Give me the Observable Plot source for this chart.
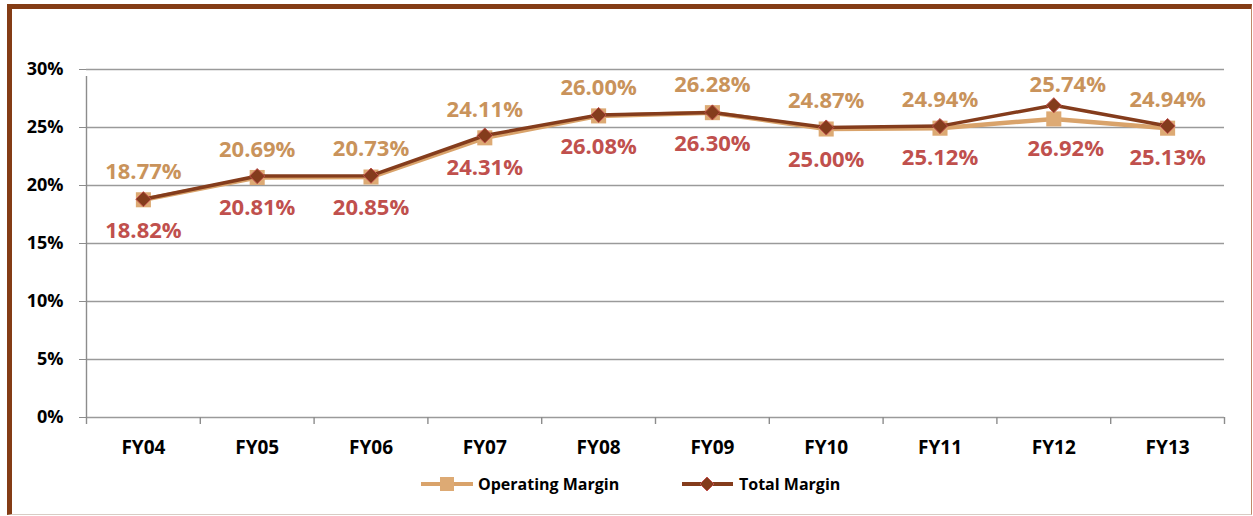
<!DOCTYPE html>
<html>
<head>
<meta charset="utf-8">
<script src="https://cdn.jsdelivr.net/npm/d3@7"></script>
<script src="https://cdn.jsdelivr.net/npm/@observablehq/plot@0.6"></script>
<style>
  html, body { margin: 0; padding: 0; background: #fff; }
  #wrap { position: relative; width: 1253px; height: 516px; overflow: hidden; font-family: "Open Sans", sans-serif; }
  #frame { position: absolute; left: 7px; top: 4px; width: 1239px; height: 505px;
           border-top: 5px solid #843C15; border-left: 5px solid #843C15;
           border-right: 1px solid #C08A6A; border-bottom: 1px solid #D8CCC4; }
  #chart { position: absolute; left: 0; top: 0; }
  #legend { position: absolute; top: 472px; left: 0; width: 1253px; height: 24px; font-weight: bold; font-size: 16px; color: #000; }
  .item { position: absolute; display: flex; align-items: center; height: 24px; }
  .item svg { margin-right: 4px; }
</style>
</head>
<body>
<div id="wrap">
  <div id="frame"></div>
  <div id="chart"></div>
  <div id="legend">
    <div class="item" style="left:420px">
      <svg width="54" height="24"><line x1="1" y1="12" x2="53" y2="12" stroke="#D9A36B" stroke-width="4"/><rect x="20" y="5" width="14" height="14" fill="#DDAA74"/></svg>
      <span>Operating Margin</span>
    </div>
    <div class="item" style="left:681px">
      <svg width="54" height="24"><line x1="1" y1="12" x2="52" y2="12" stroke="#843C1C" stroke-width="4"/><path d="M26 5 L33 12 L26 19 L19 12 Z" fill="#843C1C" stroke="#C0504D" stroke-width="1"/></svg>
      <span>Total Margin</span>
    </div>
  </div>
</div>
<script>
const categories = ["FY04","FY05","FY06","FY07","FY08","FY09","FY10","FY11","FY12","FY13"];
const operatingMargin = [18.77, 20.69, 20.73, 24.11, 26.00, 26.28, 24.87, 24.94, 25.74, 24.94];
const totalMargin = [18.82, 20.81, 20.85, 24.31, 26.08, 26.30, 25.00, 25.12, 26.92, 25.13];
const yTicks = [0, 5, 10, 15, 20, 25, 30];

const rows = categories.map((fy, i) => ({fy, op: operatingMargin[i], total: totalMargin[i]}));

const W = 1253, H = 516, mL = 86, mR = 29, mT = 69, mB = 99;
const bw = (W - mL - mR) / categories.length;
const fmt = v => v.toFixed(2) + "%";
const adjusted = "FY12"; // labels manually moved in the original chart
const normal = rows.filter(d => d.fy !== adjusted);
const moved = rows.filter(d => d.fy === adjusted);
const opText = {x: "fy", y: "op", text: d => fmt(d.op), fill: "#C9935B", fontSize: 22, fontWeight: "bold"};
const totText = {x: "fy", y: "total", text: d => fmt(d.total), fill: "#C0504D", fontSize: 22, fontWeight: "bold"};

const chart = Plot.plot({
  width: W, height: H,
  marginLeft: mL, marginRight: mR, marginTop: mT, marginBottom: mB,
  style: {fontFamily: "Open Sans, sans-serif", background: "transparent", color: "#000"},
  x: {type: "band", domain: categories, padding: 0, round: false, label: null},
  y: {domain: [0, 30], label: null},
  marks: [
    Plot.gridY(yTicks, {stroke: "#9A9A9A", strokeOpacity: 1, strokeWidth: 1.4}),
    Plot.axisY(yTicks, {tickSize: 7, tickPadding: 16, tickFormat: d => d + "%", fontSize: 18, fontWeight: "bold", stroke: "#8C8C8C", fill: "#000", label: null}),
    Plot.axisX({tickSize: 0, tickPadding: 23, fontSize: 19, fontWeight: "bold", fill: "#000", label: null}),
    Plot.ruleX([categories[0]], {y1: 0, y2: 30, dx: -bw / 2, insetBottom: -7, stroke: "#8C8C8C", strokeWidth: 1.4}),
    Plot.ruleX(categories, {y1: 0, y2: 0, dx: -bw / 2, insetBottom: -7, stroke: "#8C8C8C", strokeWidth: 1.4}),
    Plot.ruleX([categories[categories.length - 1]], {y1: 0, y2: 0, dx: bw / 2, insetBottom: -7, stroke: "#8C8C8C", strokeWidth: 1.4}),
    Plot.line(rows, {x: "fy", y: "op", stroke: "#D9A36B", strokeWidth: 4.5}),
    Plot.dot(rows, {x: "fy", y: "op", symbol: "square", r: 8.5, fill: "#DDAA74", stroke: "none"}),
    Plot.line(rows, {x: "fy", y: "total", stroke: "#843C1C", strokeWidth: 3.5}),
    Plot.dot(rows, {x: "fy", y: "total", symbol: "diamond2", r: 6.8, fill: "#843C1C", stroke: "#C0504D", strokeWidth: 1}),
    Plot.text(normal, {...opText, dy: -28}),
    Plot.text(moved, {...opText, dy: -34, dx: 14}),
    Plot.text(normal, {...totText, dy: 32}),
    Plot.text(moved, {...totText, dy: 44, dx: 12})
  ]
});
document.getElementById("chart").appendChild(chart);
</script>
</body>
</html>
